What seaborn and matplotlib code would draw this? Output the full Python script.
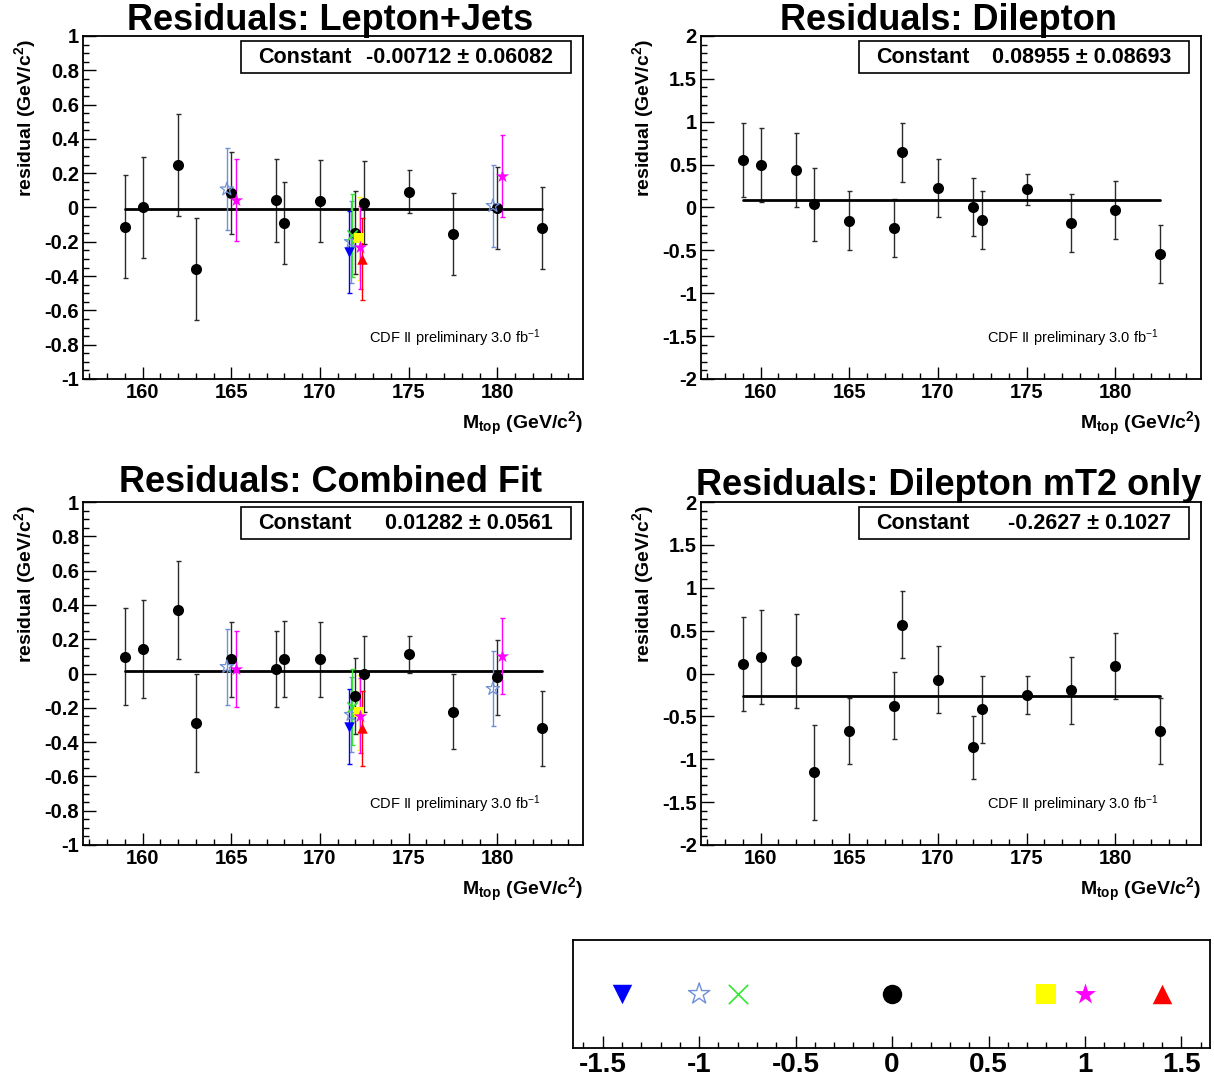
import numpy as np
import pandas as pd
import matplotlib
matplotlib.use("Agg")
import matplotlib.pyplot as plt
import seaborn as sns
from matplotlib.ticker import MultipleLocator, FuncFormatter
from matplotlib.patches import Rectangle

# ---------------- data ----------------
masses = [159, 160, 162, 163, 165, 167.5, 168, 170, 172, 172.5, 175, 177.5, 180, 182.5]

lj_res = [-0.113, 0.0, 0.249, -0.359, 0.085, 0.041, -0.091, 0.037, -0.146, 0.029, 0.093, -0.155, -0.004, -0.12]
lj_err = [0.30, 0.295, 0.296, 0.297, 0.238, 0.24, 0.24, 0.239, 0.24, 0.24, 0.124, 0.24, 0.24, 0.24]

dil_res = [0.553, 0.494, 0.44, 0.035, -0.152, -0.241, 0.642, 0.226, 0.008, -0.144, 0.21, -0.183, -0.031, -0.541]
dil_err = [0.43, 0.43, 0.43, 0.43, 0.34, 0.34, 0.34, 0.34, 0.34, 0.34, 0.18, 0.34, 0.34, 0.34]

cf_res = [0.099, 0.144, 0.369, -0.289, 0.083, 0.027, 0.085, 0.083, -0.132, -0.004, 0.111, -0.223, -0.023, -0.32]
cf_err = [0.285, 0.286, 0.285, 0.287, 0.22, 0.22, 0.22, 0.22, 0.22, 0.22, 0.11, 0.22, 0.22, 0.22]

mt2_res = [0.113, 0.191, 0.148, -1.153, -0.674, -0.374, 0.569, -0.074, -0.861, -0.417, -0.253, -0.195, 0.093, -0.674]
mt2_err = [0.55, 0.55, 0.55, 0.55, 0.385, 0.39, 0.39, 0.39, 0.37, 0.39, 0.22, 0.39, 0.385, 0.385]

fit_const = [-0.00712, 0.08955, 0.01282, -0.2627]
fit_text = ["-0.00712 \u00b1 0.06082", "0.08955 \u00b1 0.08693",
            "0.01282 \u00b1 0.0561", "-0.2627 \u00b1 0.1027"]
titles = ["Residuals: Lepton+Jets", "Residuals: Dilepton",
          "Residuals: Combined Fit", "Residuals: Dilepton mT2 only"]

# systematic-variation series (legend position value, masses, residuals)
blue_pos = -1.4
blue_m = [172]
blue_lj = [-0.26]
blue_cf = [-0.31]

lblue_pos = -1.0
lblue_m = [165, 172, 180]
lblue_lj = [0.107, -0.20, 0.01]
lblue_cf = [0.039, -0.24, -0.089]

green_pos = -0.8
green_m = [172]
green_lj = [-0.163]
green_cf = [-0.195]

yellow_pos = 0.8
yellow_m = [172]
yellow_lj = [-0.18]
yellow_cf = [-0.226]

mag_pos = 1.0
mag_m = [165, 172, 180]
mag_lj = [0.045, -0.233, 0.184]
mag_cf = [0.027, -0.245, 0.101]

red_pos = 1.4
red_m = [172]
red_lj = [-0.30]
red_cf = [-0.32]

sys_err_lj = 0.24
sys_err_cf = 0.22

legend_ticks = [-1.5, -1, -0.5, 0, 0.5, 1, 1.5]

# ---------------- style ----------------
sns.set_style("ticks")
plt.rcParams['font.family'] = ['Liberation Sans', 'DejaVu Sans']
plt.rcParams['axes.unicode_minus'] = False
plt.rcParams['mathtext.fontset'] = 'custom'
plt.rcParams['mathtext.rm'] = 'Liberation Sans'
plt.rcParams['mathtext.bf'] = 'Liberation Sans:bold'
plt.rcParams['mathtext.it'] = 'Liberation Sans:italic'
for k in ['text.color', 'axes.labelcolor', 'xtick.color', 'ytick.color', 'axes.edgecolor']:
    plt.rcParams[k] = 'black'

W, H = 1214, 1080
fig = plt.figure(figsize=(W / 100, H / 100), dpi=100)
fig.patch.set_facecolor('white')

fmt = FuncFormatter(lambda v, p: '%g' % round(v, 6))


def px_axes(x0, y0, x1, y1):
    return fig.add_axes([x0 / W, 1 - y1 / H, (x1 - x0) / W, (y1 - y0) / H])


series_style = {
    'blue': dict(color='#0000ff', marker='v', filled=True, ms=7.5),
    'lblue': dict(color='#6f8fd8', marker='*', filled=False, ms=10),
    'green': dict(color='#33e633', marker='x', filled=True, ms=7.5),
    'yellow': dict(color='#ffff00', marker='s', filled=True, ms=7.5),
    'mag': dict(color='#ff00ff', marker='*', filled=True, ms=10),
    'red': dict(color='#ff0000', marker='^', filled=True, ms=7.5),
}


def draw_sys(ax, key, pos, m, vals, err):
    st = series_style[key]
    xs = [mm + 0.25 * pos for mm in m]
    ax.errorbar(xs, vals, yerr=[err] * len(vals), fmt='none', ecolor=st['color'],
                elinewidth=1.0, capsize=1.8, capthick=1.0, zorder=3)
    df = pd.DataFrame({'x': xs, 'y': vals})
    if st['marker'] == 'x':
        sns.scatterplot(data=df, x='x', y='y', ax=ax, marker='x', color=st['color'],
                        s=st['ms'] ** 2, linewidth=1.2, zorder=5, legend=False)
    elif st['filled']:
        sns.scatterplot(data=df, x='x', y='y', ax=ax, marker=st['marker'], color=st['color'],
                        s=st['ms'] ** 2, linewidth=0, zorder=5, legend=False)
    else:
        sns.scatterplot(data=df, x='x', y='y', ax=ax, marker=st['marker'], facecolor='none',
                        edgecolor=st['color'], s=st['ms'] ** 2, linewidth=0.9, zorder=5, legend=False)


def setup_panel(ax, ylim, major, minor, idx, res, err):
    ax.errorbar(masses, res, yerr=err, fmt='none', ecolor='#2a2a2a', elinewidth=1.0,
                capsize=1.8, capthick=1.0, zorder=2)
    df = pd.DataFrame({'x': masses, 'y': res})
    sns.scatterplot(data=df, x='x', y='y', ax=ax, color='black', s=8 ** 2,
                    linewidth=0, zorder=4, legend=False)
    fit = pd.DataFrame({'x': [masses[0], masses[-1]], 'y': [fit_const[idx]] * 2})
    sns.lineplot(data=fit, x='x', y='y', ax=ax, color='black', linewidth=2.0, zorder=3)
    ax.set_xlim(156.64, 184.83)
    ax.set_ylim(*ylim)
    ax.xaxis.set_major_locator(MultipleLocator(5))
    ax.xaxis.set_minor_locator(MultipleLocator(1))
    ax.yaxis.set_major_locator(MultipleLocator(major))
    ax.yaxis.set_minor_locator(MultipleLocator(minor))
    ax.yaxis.set_major_formatter(fmt)
    ax.xaxis.set_major_formatter(fmt)
    ax.tick_params(which='both', direction='in', top=False, right=False, width=1.0,
                   colors='black')
    ax.tick_params(which='major', length=9, labelsize=14.5, pad=3)
    ax.tick_params(which='minor', length=4.5)
    for lab in ax.get_xticklabels() + ax.get_yticklabels():
        lab.set_fontweight('bold')
    for sp in ax.spines.values():
        sp.set_linewidth(1.3)
        sp.set_color('black')
    # stat box
    ax.add_patch(Rectangle((0.316, 0.892), 0.66, 0.093, transform=ax.transAxes,
                           facecolor='white', edgecolor='black', linewidth=1.2, zorder=6))
    ax.text(0.35, 0.938, 'Constant', transform=ax.transAxes, ha='left', va='center',
            fontsize=15.5, fontweight='bold', zorder=7)
    ax.text(0.94, 0.938, fit_text[idx], transform=ax.transAxes, ha='right', va='center',
            fontsize=15.5, fontweight='bold', zorder=7)
    ax.text(0.916, 0.105, r'CDF II preliminary 3.0 fb$^{-1}$', transform=ax.transAxes,
            ha='right', va='baseline', fontsize=10.5)


panels = [
    (83, 36, 583, 379, (-1, 1), 0.2, 0.05, lj_res, lj_err),
    (701, 36, 1201, 379, (-2, 2), 0.5, 0.1, dil_res, dil_err),
    (83, 502, 583, 845, (-1, 1), 0.2, 0.05, cf_res, cf_err),
    (701, 502, 1201, 845, (-2, 2), 0.5, 0.1, mt2_res, mt2_err),
]
title_y = [30, 30, 492, 495]

axes = []
for i, (x0, y0, x1, y1, ylim, mj, mn, res, err) in enumerate(panels):
    ax = px_axes(x0, y0, x1, y1)
    setup_panel(ax, ylim, mj, mn, i, res, err)
    axes.append(ax)
    fig.text((x0 + x1) / 2 / W - 0.002, 1 - title_y[i] / H, titles[i], ha='center',
             va='baseline', fontsize=26, fontweight='bold')
    fig.text((x0 - 58) / W, 1 - (y0 + 3) / H, r'residual (GeV/c$^{\mathbf{2}}$)', rotation=90,
             ha='center', va='top', fontsize=14, fontweight='bold')
    fig.text(x1 / W, 1 - (y1 + 45) / H, r'M$_{\mathbf{top}}$ (GeV/c$^{\mathbf{2}}$)',
             ha='right', va='center', fontsize=14, fontweight='bold')

# systematic points on Lepton+Jets and Combined panels
for ax, sel in [(axes[0], 'lj'), (axes[2], 'cf')]:
    e = sys_err_lj if sel == 'lj' else sys_err_cf
    draw_sys(ax, 'lblue', lblue_pos, lblue_m, lblue_lj if sel == 'lj' else lblue_cf, e)
    draw_sys(ax, 'blue', blue_pos, blue_m, blue_lj if sel == 'lj' else blue_cf, e)
    draw_sys(ax, 'green', green_pos, green_m, green_lj if sel == 'lj' else green_cf, e)
    draw_sys(ax, 'yellow', yellow_pos, yellow_m, yellow_lj if sel == 'lj' else yellow_cf, e)
    draw_sys(ax, 'mag', mag_pos, mag_m, mag_lj if sel == 'lj' else mag_cf, e)
    draw_sys(ax, 'red', red_pos, red_m, red_lj if sel == 'lj' else red_cf, e)

for ax in axes:
    ax.set_xlabel('')
    ax.set_ylabel('')

# ---------------- legend panel ----------------
lax = px_axes(573, 940, 1210, 1048)
lax.set_xlim(-1.654, 1.648)
lax.set_ylim(0, 1)
leg_items = [
    (blue_pos, 'v', '#0000ff', True),
    (lblue_pos, '*', '#6f8fd8', False),
    (green_pos, 'x', '#33e633', True),
    (0.0, 'o', 'black', True),
    (yellow_pos, 's', '#ffff00', True),
    (mag_pos, '*', '#ff00ff', True),
    (red_pos, '^', '#ff0000', True),
]
for pos, mk, col, filled in leg_items:
    d = pd.DataFrame({'x': [pos], 'y': [0.5]})
    size = 16 if mk == '*' else 14
    if mk == 'x':
        sns.scatterplot(data=d, x='x', y='y', ax=lax, marker='x', color=col, s=size ** 2,
                        linewidth=1.2, legend=False)
    elif filled:
        sns.scatterplot(data=d, x='x', y='y', ax=lax, marker=mk, color=col, s=size ** 2,
                        linewidth=0, legend=False)
    else:
        sns.scatterplot(data=d, x='x', y='y', ax=lax, marker=mk, facecolor='none',
                        edgecolor=col, s=size ** 2, linewidth=1.0, legend=False)
lax.set_xticks(legend_ticks)
lax.xaxis.set_minor_locator(MultipleLocator(0.1))
lax.xaxis.set_major_formatter(fmt)
lax.set_yticks([])
lax.tick_params(which='both', direction='in', top=False, right=False, left=False, width=1.0,
                colors='black')
lax.tick_params(which='major', length=9, labelsize=20, pad=3)
lax.tick_params(which='minor', length=4.5)
for lab in lax.get_xticklabels():
    lab.set_fontweight('bold')
for sp in lax.spines.values():
    sp.set_linewidth(1.3)
    sp.set_color('black')
lax.set_xlabel('')
lax.set_ylabel('')

fig.savefig('out.png', dpi=100, facecolor='white')
